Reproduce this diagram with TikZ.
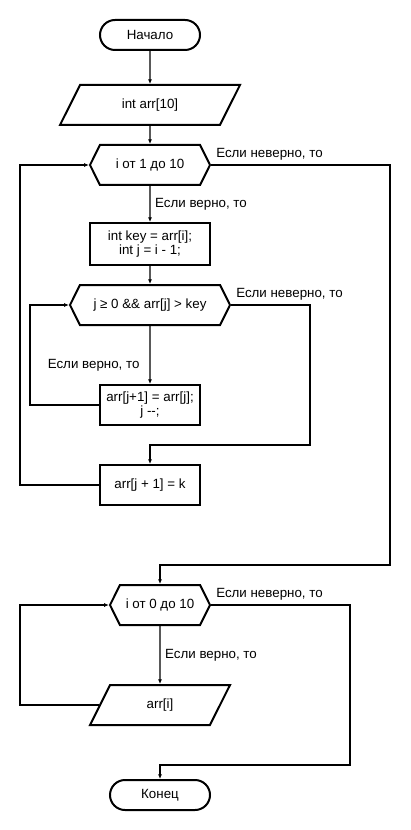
\documentclass[tikz,border=0pt]{standalone}
\usepackage{fontspec}
\setmainfont{Liberation Sans}
\usetikzlibrary{shapes.geometric,shapes.symbols,arrows.meta}

\begin{document}
\begin{tikzpicture}[x=0.75pt,y=-0.75pt,
    font=\fontsize{10}{10.5}\selectfont,
    line width=1.1pt,
    base/.style={draw,line width=1.5pt,inner sep=0pt,align=center},
    term/.style={base,rectangle,rounded corners=11.25pt,minimum width=75pt,minimum height=22.5pt},
    io/.style={base,trapezium,trapezium left angle=63.4,trapezium right angle=116.6,
      trapezium stretches body,text height=7pt,text depth=2pt,inner ysep=10.5pt},
    cyc/.style={base,signal,signal to=west and east,signal pointer angle=127,minimum height=30pt},
    proc/.style={base,rectangle,minimum width=75pt,minimum height=30pt},
    arr/.style={-{Latex[length=3.5pt,width=3pt]}}]
  \useasboundingbox (0,0) rectangle (410,830);
  \node[term] (start) at (150,35) {Начало};
  \node[io,minimum width=135pt] (in) at (150,105) {int arr[10]};
  \node[cyc,minimum width=90pt] (for1) at (150,165) {i от 1 до 10};
  \node[proc,minimum width=90pt,minimum height=31.5pt] (init) at (150,244) {int key = arr[i];\\int j = i - 1;};
  \node[cyc,minimum width=120pt] (while) at (150,305) {j ≥ 0 \&\& arr[j] > key};
  \node[proc] (shift) at (150,405) {arr[j+1] = arr[j];\\j -{}-;};
  \node[proc] (put) at (150,485) {arr[j + 1] = k};
  \node[cyc,minimum width=75pt] (for2) at (160,605) {i от 0 до 10};
  \node[io,minimum width=105pt] (out) at (160,705) {arr[i]};
  \node[term] (stop) at (160,795) {Конец};
  \coordinate (backA) at (20,165);
  \coordinate (skipA) at (390,565);
  \coordinate (backB) at (30,305);
  \coordinate (skipB) at (310,445);
  \coordinate (backC) at (20,605);
  \coordinate (skipC) at (350,765);
  \draw[arr] (start) -- (in);
  \draw[arr] (in) -- (for1);
  \draw[arr] (for1) -- node[right]{Если верно, то} (init);
  \draw[arr] (init) -- (while);
  \draw[arr] (while) -- node[left=4pt,pos=0.67]{Если верно, то} (shift);
  \draw[arr] (shift.west) -| (backB) -- (while.west);
  \draw[arr] (while.east) node[above right]{Если неверно, то} -| (skipB) -| (put.north);
  \draw[arr] (put.west) -| (backA) -- (for1.west);
  \draw[arr] (for1.east) node[above right]{Если неверно, то} -| (skipA) -| (for2.north);
  \draw[arr] (for2) -- node[right]{Если верно, то} (out);
  \draw[arr] (out.west) -| (backC) -- (for2.west);
  \draw[arr] (for2.east) node[above right]{Если неверно, то} -| (skipC) -| (stop.north);
\end{tikzpicture}
\end{document}
